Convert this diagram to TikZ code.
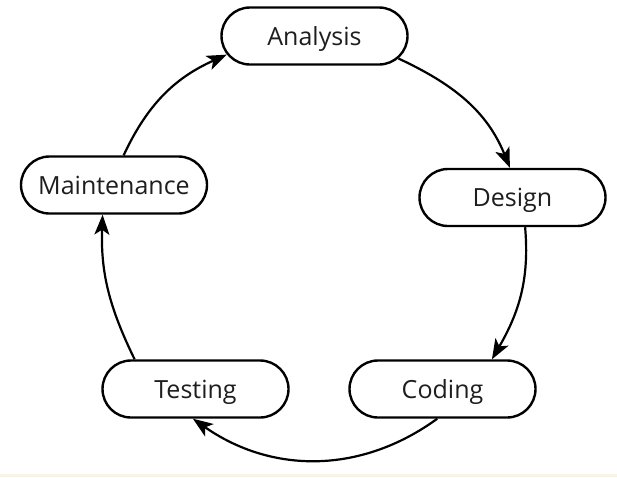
\documentclass[tikz,border=0pt]{standalone}
\usepackage{fontspec}
\setmainfont{Open Sans}
\usetikzlibrary{shapes.misc,arrows.meta}
\definecolor{strip}{RGB}{251,242,228}
\definecolor{ink}{RGB}{30,30,30}
\begin{document}
\begin{tikzpicture}[x=1pt,y=1pt,
  stage/.style={rounded rectangle, draw=black, line width=2.4pt, fill=white,
    minimum width=186pt, minimum height=57pt, inner sep=0pt,
    text height=18pt, text depth=0pt,
    font=\fontsize{25}{30}\selectfont, text=ink},
  flow/.style={line width=2.2pt, -{Stealth[length=20pt,width=15pt,inset=5pt]}}]
\path[use as bounding box] (0,0) rectangle (617,-477);
\fill[white] (0,0) rectangle (617,-477);
\fill[strip] (0,-474) rectangle (617,-477);

\node[stage] (A) at (314.5,-36) {Analysis};
\node[stage] (D) at (512.5,-197.5) {Design};
\node[stage] (C) at (442.5,-389) {Coding};
\node[stage] (T) at (195.5,-389) {Testing};
\node[stage] (M) at (114,-185) {Maintenance};

\draw[flow] (A.-15) to[out=-25,in=112] (D.95);
\draw[flow] (D.-67) to[out=-85,in=60] (C.31);
\draw[flow] (C.-100) to[out=-144,in=-35] (T.-95);
\draw[flow] (T.154) to[out=116,in=-92] (M.-111);
\draw[flow] (M.72) to[out=65,in=204] (A.192);
\end{tikzpicture}
\end{document}
